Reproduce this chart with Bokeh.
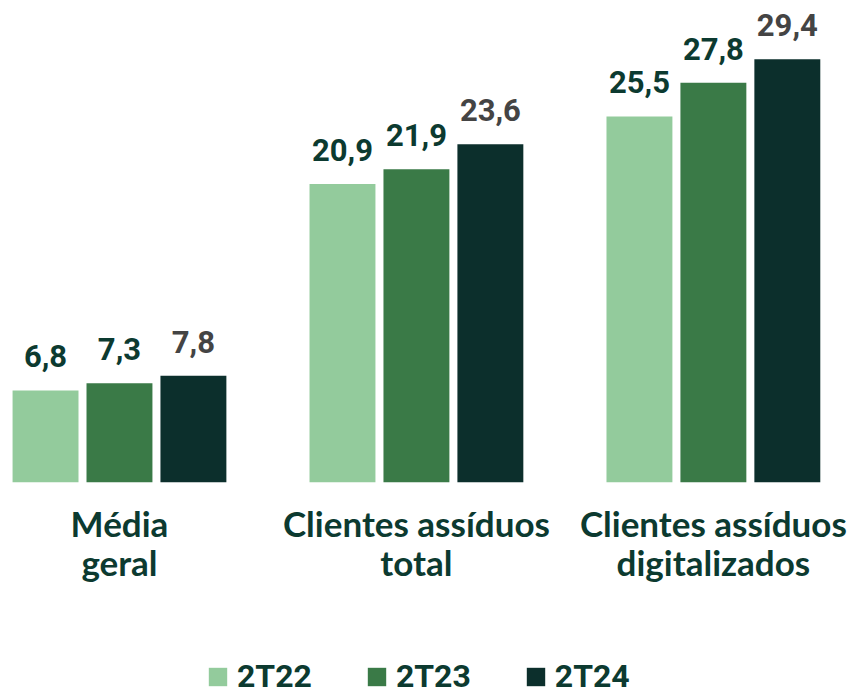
from bokeh.plotting import figure
from bokeh.layouts import column
from bokeh.models import Range1d, FixedTicker, ColumnDataSource, Legend, LegendItem
from bokeh.transform import dodge
from bokeh.core.properties import value
from bokeh.embed import file_html
from bokeh.resources import INLINE

categories = ["Média\ngeral", "Clientes assíduos\ntotal", "Clientes assíduos\ndigitalizados"]
series = ["2T22", "2T23", "2T24"]
v_2t22 = [6.8, 20.9, 25.5]
v_2t23 = [7.3, 21.9, 27.8]
v_2t24 = [7.8, 23.6, 29.4]
values = [v_2t22, v_2t23, v_2t24]

bar_colors = ["#93CB9C", "#3A7A47", "#0C2F2C"]
label_colors = ["#0C3A30", "#0C3A30", "#444444"]

p = figure(width=856, height=600, output_backend="svg", toolbar_location=None,
           x_range=Range1d(-0.3737, 2.455), y_range=Range1d(0.52, 32.87),
           min_border_left=8, min_border_right=8, min_border_top=8, min_border_bottom=118)
p.outline_line_color = None
p.xgrid.visible = False
p.ygrid.visible = False
p.yaxis.visible = False

idx = list(range(len(categories)))
offsets = [-0.249, 0.0, 0.249]
sources = []
for j, s in enumerate(series):
    src = ColumnDataSource(dict(idx=idx, val=values[j],
                                lab=[f"{v:.1f}".replace(".", ",") for v in values[j]]))
    sources.append(src)
    p.vbar(x=dodge("idx", offsets[j], range=p.x_range), top="val", bottom=0, width=0.222,
           source=src, fill_color=bar_colors[j], line_color=None)
    p.text(x=dodge("idx", offsets[j], range=p.x_range), y="val", text="lab", source=src,
           text_align="center", text_baseline="bottom", y_offset=-23,
           text_font=value("Roboto"), text_font_style="bold", text_font_size="31px",
           text_color=label_colors[j])

ax = p.xaxis[0]
ax.ticker = FixedTicker(ticks=idx)
ax.major_label_overrides = {i: c for i, c in zip(idx, categories)}
ax.axis_line_color = None
ax.major_tick_line_color = None
ax.minor_tick_line_color = None
ax.major_label_text_font = "Lato"
ax.major_label_text_font_style = "bold"
ax.major_label_text_font_size = "35px"
ax.major_label_text_line_height = 0.95
ax.major_label_text_color = "#0C3A30"
ax.major_label_standoff = 13

# legend figure
q = figure(width=856, height=95, output_backend="svg", toolbar_location=None,
           x_range=Range1d(100, 101), y_range=Range1d(100, 101),
           min_border_left=0, min_border_right=0, min_border_top=0, min_border_bottom=0)
q.outline_line_color = None
q.xaxis.visible = False
q.yaxis.visible = False
q.xgrid.visible = False
q.ygrid.visible = False
items = []
for j, s in enumerate(series):
    r = q.vbar(x="idx", top="val", width=0.1, source=sources[j],
               fill_color=bar_colors[j], line_color=None)
    items.append(LegendItem(label=s, renderers=[r]))
legend = Legend(items=items, orientation="horizontal", location=(198, 0),
                glyph_width=23, glyph_height=23, label_standoff=8, spacing=53,
                label_text_font="Roboto", label_text_font_style="bold",
                label_text_font_size="32px", label_text_color="#0C3A30",
                label_text_line_height=0.8, label_height=23,
                border_line_color=None, background_fill_alpha=0, padding=0, margin=0)
q.add_layout(legend, "center")

open("out.html", "w").write(file_html(column(p, q), INLINE))
